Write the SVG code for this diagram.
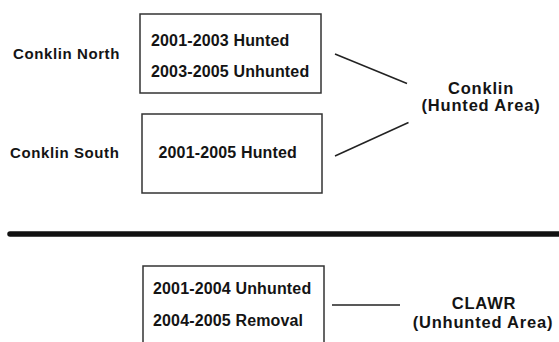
<svg xmlns="http://www.w3.org/2000/svg" width="559" height="342" viewBox="0 0 559 342">
<style>
text{font-family:"Liberation Sans",Arial,sans-serif;font-weight:bold;fill:#141414;font-size:15px;letter-spacing:0.6px}
.bt{font-size:16px;letter-spacing:0.15px}
.big{font-size:16.5px;letter-spacing:0.8px;text-anchor:middle}
.box{fill:#fff;stroke:#333;stroke-width:1.5}
.conn line{stroke:#222;stroke-width:1.5;fill:none}
</style>
<rect width="559" height="342" fill="#fff"/>
<g id="label-north"><text x="13" y="58.5">Conklin North</text></g>
<g id="label-south"><text x="10" y="158">Conklin South</text></g>
<g id="box-north">
<rect class="box" x="140" y="14" width="181" height="79"/>
<text class="bt" x="151" y="45.5">2001-2003 Hunted</text>
<text class="bt" x="151" y="76.5">2003-2005 Unhunted</text>
</g>
<g id="box-south">
<rect class="box" x="142" y="114" width="180" height="79"/>
<text class="bt" x="158.5" y="158">2001-2005 Hunted</text>
</g>
<g id="conklin"><text class="big" x="481" y="93.5">Conklin</text><text class="big" x="481" y="111">(Hunted Area)</text></g>
<g id="box-clawr">
<rect class="box" x="143" y="266" width="181" height="90"/>
<text class="bt" x="153" y="293.5">2001-2004 Unhunted</text>
<text class="bt" x="153" y="326">2004-2005 Removal</text>
</g>
<g id="clawr"><text class="big" x="484" y="309">CLAWR</text><text class="big" x="483" y="327.5">(Unhunted Area)</text></g>
<g id="divider"><line x1="10" y1="234" x2="570" y2="234" stroke="#111" stroke-width="5.5" stroke-linecap="round"/></g>
<g class="conn" id="connectors">
<line x1="335" y1="54" x2="407" y2="83.5"/>
<line x1="335" y1="156" x2="408.5" y2="122.5"/>
<line x1="332" y1="305" x2="400" y2="305"/>
</g>
</svg>
